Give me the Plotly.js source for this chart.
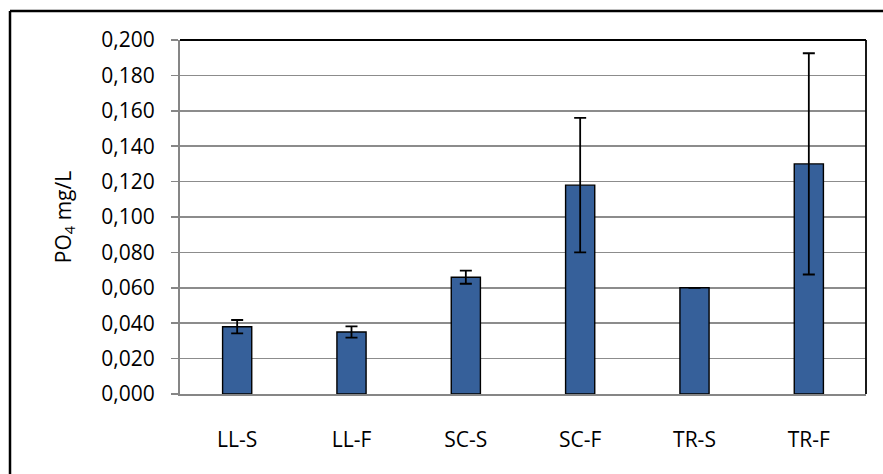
<!DOCTYPE html>
<html>
<head>
<meta charset="utf-8">
<script src="https://cdn.plot.ly/plotly-3.0.1.min.js"></script>
<style>html,body{margin:0;padding:0;background:#fff;}#chart{width:883px;height:474px;}</style>
</head>
<body>
<div id="chart"></div>
<script>
const categories = ['LL-S', 'LL-F', 'SC-S', 'SC-F', 'TR-S', 'TR-F'];
const values = [0.038, 0.035, 0.066, 0.118, 0.060, 0.130];
const errors = [0.0038, 0.0032, 0.0037, 0.038, 0.0, 0.0625];
const yTicks = [0, 0.02, 0.04, 0.06, 0.08, 0.10, 0.12, 0.14, 0.16, 0.18, 0.20];

const font = "'Open Sans', 'Liberation Sans', sans-serif";
const fs = 21;

const trace = {
  type: 'bar',
  x: categories,
  y: values,
  marker: { color: '#36609a', line: { color: '#000000', width: 1.4 } },
  error_y: { type: 'data', array: errors, visible: true, color: '#000000', thickness: 1.8, width: 6 },
  hoverinfo: 'none'
};

const layout = {
  width: 883, height: 474,
  margin: { l: 180, r: 17, t: 40, b: 80 },
  paper_bgcolor: '#ffffff', plot_bgcolor: '#ffffff',
  separators: ',.',
  bargap: 0.745,
  showlegend: false,
  font: { family: font, size: fs, color: '#000000' },
  xaxis: {
    type: 'category',
    showgrid: false,
    showline: true, linecolor: '#868686', linewidth: 2,
    ticks: '', ticklabelstandoff: 26,
    tickfont: { family: font, size: fs, color: '#000000' },
    fixedrange: true
  },
  yaxis: {
    range: [0, 0.2],
    tickvals: yTicks,
    tickformat: '.3f',
    showgrid: true, gridcolor: '#8c8c8c', gridwidth: 1.6,
    showline: true, linecolor: '#868686', linewidth: 2,
    zeroline: false,
    ticks: 'outside', ticklen: 7, tickcolor: '#868686', tickwidth: 1.6,
    ticklabelstandoff: 12,
    tickfont: { family: font, size: fs, color: '#000000' },
    title: { text: 'PO<sub>4</sub> mg/L', standoff: 24, font: { family: font, size: fs, color: '#000000' } },
    fixedrange: true
  },
  shapes: [
    { type: 'line', xref: 'paper', yref: 'paper', x0: 0, x1: 1, y0: 1, y1: 1, line: { color: '#000000', width: 1.8 }, layer: 'above' },
    { type: 'line', xref: 'paper', yref: 'paper', x0: 1, x1: 1, y0: 0, y1: 1, line: { color: '#000000', width: 1.8 }, layer: 'above' },
    { type: 'line', xref: 'paper', yref: 'paper',
      x0: (10 - 180) / 686, x1: (890 - 180) / 686,
      y0: (394 - 11) / 354, y1: (394 - 11) / 354,
      line: { color: '#000000', width: 2.5 }, layer: 'above' },
    { type: 'line', xref: 'paper', yref: 'paper',
      x0: (10 - 180) / 686, x1: (10 - 180) / 686,
      y0: (394 - 480) / 354, y1: (394 - 11) / 354,
      line: { color: '#000000', width: 2.5 }, layer: 'above' }
  ]
};

Plotly.newPlot('chart', [trace], layout, { displayModeBar: false, staticPlot: true });
</script>
</body>
</html>
